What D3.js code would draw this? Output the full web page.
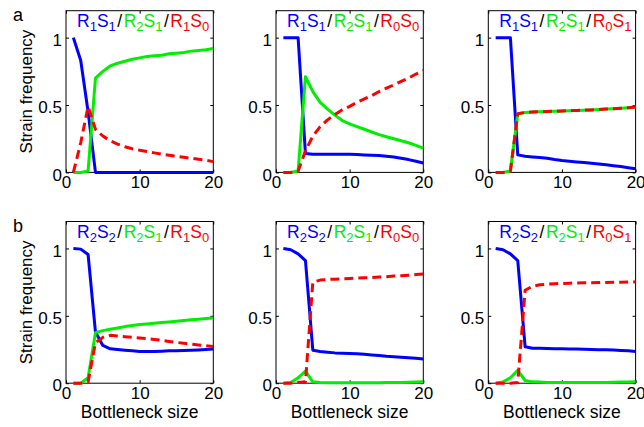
<!DOCTYPE html>
<html><head><meta charset="utf-8">
<script src="https://cdn.jsdelivr.net/npm/d3@7"></script>
<style>body{margin:0;background:#fff}svg{display:block}text{font-family:"Liberation Sans",Arial,sans-serif}</style>
</head><body>
<script>
const bottleneck = [1,2,3,4,5,6,7,8,9,10,11,12,13,14,15,16,17,18,19,20];
const xTicks = [0,10,20];
const yTicks = [0,0.5,1];
const yTickLabels = ["0","0.5","1"];
const rowLetters = ["a","b"];
const yAxisLabel = "Strain frequency";
const xAxisLabel = "Bottleneck size";

// legend names per panel: [blue, green, red]
const names = [
  ["R1S1","R2S1","R1S0"], ["R1S1","R2S1","R0S0"], ["R1S1","R2S1","R0S1"],
  ["R2S2","R2S1","R1S0"], ["R2S2","R2S1","R0S0"], ["R2S2","R2S1","R0S1"]
];

// panel a1
const a1Blue  = [1.0,0.83,0.45,0,0,0,0,0,0,0,0,0,0,0,0,0,0,0,0,0];
const a1Green = [0,0,0.01,0.70,0.75,0.79,0.81,0.825,0.84,0.85,0.86,0.865,0.87,0.88,0.885,0.89,0.90,0.905,0.91,0.92];
const a1Red   = [0,0.22,0.49,0.32,0.27,0.235,0.21,0.19,0.175,0.165,0.155,0.145,0.135,0.128,0.12,0.112,0.105,0.097,0.09,0.08];
// panel a2
const a2Blue  = [1,1,1,0.14,0.135,0.135,0.135,0.135,0.135,0.135,0.133,0.13,0.128,0.125,0.12,0.115,0.105,0.095,0.083,0.07];
const a2Green = [0,0,0.01,0.71,0.6,0.52,0.47,0.425,0.385,0.36,0.34,0.32,0.3,0.28,0.265,0.25,0.235,0.22,0.2,0.18];
const a2Red   = [0,0,0.01,0.16,0.27,0.34,0.39,0.43,0.465,0.49,0.52,0.545,0.57,0.6,0.625,0.65,0.675,0.7,0.73,0.755];
// panel a3
const a3Blue  = [1,1,1,0.13,0.12,0.115,0.11,0.105,0.095,0.088,0.083,0.078,0.073,0.068,0.063,0.057,0.05,0.043,0.035,0.027];
const a3Green = [0,0,0.01,0.435,0.445,0.448,0.45,0.452,0.454,0.456,0.458,0.46,0.462,0.464,0.467,0.47,0.473,0.476,0.48,0.485];
const a3Red   = [0,0,0.01,0.435,0.445,0.448,0.45,0.452,0.454,0.456,0.458,0.46,0.462,0.464,0.467,0.47,0.473,0.476,0.48,0.485];
// panel b1
const b1Blue  = [1,0.995,0.955,0.38,0.28,0.255,0.25,0.245,0.24,0.235,0.235,0.235,0.237,0.24,0.24,0.242,0.245,0.247,0.25,0.253];
const b1Green = [0,0,0.04,0.375,0.39,0.40,0.41,0.42,0.428,0.435,0.44,0.445,0.45,0.455,0.46,0.465,0.47,0.475,0.48,0.484];
const b1Red   = [0,0,0.01,0.30,0.34,0.355,0.35,0.345,0.34,0.335,0.33,0.325,0.318,0.31,0.303,0.296,0.29,0.284,0.278,0.273];
// panel b2
const b2Blue  = [1,0.99,0.96,0.91,0.245,0.235,0.23,0.225,0.222,0.22,0.218,0.215,0.21,0.205,0.2,0.197,0.193,0.189,0.185,0.18];
const b2Green = [0,0.005,0.04,0.09,0.01,0.005,0.004,0.003,0.003,0.003,0.003,0.003,0.003,0.004,0.005,0.005,0.006,0.007,0.008,0.01];
const b2Red   = [0,0,0.005,0.01,0.75,0.765,0.77,0.772,0.775,0.777,0.78,0.782,0.785,0.788,0.79,0.795,0.798,0.802,0.806,0.81];
// panel b3
const b3Blue  = [1,0.99,0.96,0.91,0.27,0.26,0.26,0.258,0.256,0.255,0.254,0.253,0.252,0.25,0.249,0.248,0.246,0.243,0.24,0.236];
const b3Green = [0,0.01,0.04,0.095,0.02,0.01,0.008,0.006,0.005,0.005,0.005,0.005,0.005,0.005,0.005,0.006,0.007,0.008,0.009,0.01];
const b3Red   = [0,0,0,0.005,0.69,0.72,0.73,0.735,0.738,0.74,0.742,0.744,0.745,0.746,0.747,0.748,0.749,0.75,0.751,0.752];

const panelData = [
  [a1Blue,a1Green,a1Red],[a2Blue,a2Green,a2Red],[a3Blue,a3Green,a3Red],
  [b1Blue,b1Green,b1Red],[b2Blue,b2Green,b2Red],[b3Blue,b3Green,b3Red]
];

const colors = ["#0000ff","#00ee00","#ff0000"];
const W = 644, H = 427;
const colLeft = [66, 276, 488.3];
const pw = 147.3;
const rowTop = [10.7, 221.5];
const ph = 161.7;

const svg = d3.select("body").append("svg").attr("width",W).attr("height",H);
svg.append("rect").attr("width",W).attr("height",H).attr("fill","#fff");

panelData.forEach((series, i) => {
  const r = Math.floor(i/3), c = i%3;
  const x0 = colLeft[c], y0 = rowTop[r];
  const x = d3.scaleLinear().domain([0,20]).range([x0, x0+pw]);
  const y = d3.scaleLinear().domain([0,1.2]).range([y0+ph, y0]);
  const g = svg.append("g");

  g.append("rect").attr("x",x0).attr("y",y0).attr("width",pw).attr("height",ph)
    .attr("fill","none").attr("stroke","#000").attr("stroke-width",1);

  const axB = g.append("g").attr("transform",`translate(0,${y0+ph})`)
    .call(d3.axisBottom(x).tickValues(xTicks).tickSizeInner(-3).tickSizeOuter(0).tickPadding(6));
  const axT = g.append("g").attr("transform",`translate(0,${y0})`)
    .call(d3.axisTop(x).tickValues(xTicks).tickSizeInner(-3).tickSizeOuter(0).tickFormat(""));
  const axL = g.append("g").attr("transform",`translate(${x0},0)`)
    .call(d3.axisLeft(y).tickValues(yTicks).tickSizeInner(-3).tickSizeOuter(0).tickPadding(7)
      .tickFormat((d,k)=>yTickLabels[k]));
  const axR = g.append("g").attr("transform",`translate(${x0+pw},0)`)
    .call(d3.axisRight(y).tickValues(yTicks).tickSizeInner(-3).tickSizeOuter(0).tickFormat(""));
  [axB,axT,axL,axR].forEach(a=>{a.select(".domain").remove(); a.selectAll("line").attr("stroke","#000");});
  axB.selectAll("text").attr("font-size",17).attr("fill","#000").attr("dy",null).attr("y",16);
  axL.selectAll("text").attr("font-size",17).attr("fill","#000").attr("dy","0.36em").attr("y",1.5).attr("x",-4);

  const line = d3.line().x((d,k)=>x(bottleneck[k])).y(d=>y(d));
  series.forEach((vals, s) => {
    g.append("path").datum(vals).attr("d",line).attr("fill","none")
      .attr("stroke",colors[s]).attr("stroke-width",3)
      .attr("stroke-linejoin","round")
      .attr("stroke-dasharray", s===2 ? "9,5" : null);
  });

  const t = g.append("text").attr("x",x0+11).attr("y",y0+16).attr("font-size",17.5);
  names[i].forEach((nm, s) => {
    if (s>0) t.append("tspan").text("/").attr("fill","#000").attr("dx",1.5);
    const parts = nm.match(/[A-Z]\d/g);
    parts.forEach((p, q) => {
      t.append("tspan").text(p[0]).attr("fill",colors[s]).attr("dx", (s>0 && q===0) ? 1.5 : null);
      t.append("tspan").text(p[1]).attr("fill",colors[s]).attr("font-size",13).attr("baseline-shift","-30%");
    });
  });

  if (c===0) {
    svg.append("text").attr("transform",`translate(32,${y0+ph/2}) rotate(-90)`)
      .attr("text-anchor","middle").attr("font-size",17).text(yAxisLabel);
    svg.append("text").attr("x",13).attr("y",y0+10).attr("font-size",18).text(rowLetters[r]);
  }
  if (r===1) {
    svg.append("text").attr("x",x0+pw/2).attr("y",y0+ph+35).attr("text-anchor","middle")
      .attr("font-size",17.5).text(xAxisLabel);
  }
});
</script>
</body></html>
